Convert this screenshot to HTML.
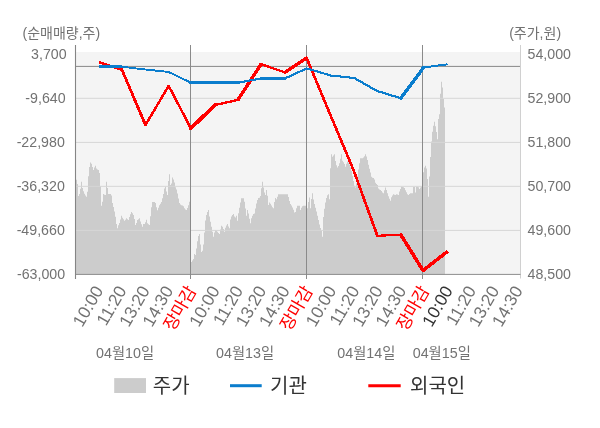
<!DOCTYPE html>
<html lang="ko"><head><meta charset="utf-8"><title>chart</title>
<style>
html,body{margin:0;padding:0;background:#fff;}
body{width:600px;height:428px;overflow:hidden;}
svg{display:block;font-family:'Liberation Sans', 'Noto Sans CJK KR', sans-serif;}
.ax{font-size:14px;fill:#727272;}
.axn{font-size:14.8px;fill:#727272;}
.xt{font-size:17.3px;}
.dt{font-size:14.3px;fill:#727272;}
.lg{font-size:20px;fill:#333;}
</style></head><body>
<svg width="600" height="428" viewBox="0 0 600 428">
<rect x="0" y="0" width="600" height="428" fill="#fff"/>
<rect x="75.5" y="52.0" width="445.0" height="222.39999999999998" fill="#f4f4f4"/>
<path d="M76,274.4V179.7H77V184.0H78V196.0H79V193.9H80V188.7H81V181.7H82V188.0H83V191.3H84V193.8H85V195.5H86V196.7H87V191.7H88V176.2H89V167.1H90V162.5H91V163.8H92V167.0H93V170.0H94V167.5H95V165.8H96V168.5H97V169.4H98V169.9H99V173.1H100V186.3H101V205.8H102V201.7H103V194.0H104V194.7H105V195.0H106V181.7H107V188.0H108V194.0H109V194.0H110V194.0H111V195.5H112V203.0H113V207.1H114V211.6H115V216.7H116V224.1H117V228.3H118V225.3H119V222.9H120V219.4H121V215.8H122V217.7H123V219.3H124V220.8H125V219.8H126V218.3H127V219.2H128V220.0H129V217.0H130V214.3H131V212.0H132V213.2H133V214.9H134V219.1H135V225.0H136V222.9H137V220.0H138V219.2H139V218.3H140V221.4H141V224.2H142V226.7H143V224.0H144V224.0H145V222.3H146V219.7H147V223.3H148V224.3H149V225.0H150V216.3H151V207.3H152V202.0H153V202.0H154V202.0H155V202.9H156V207.3H157V210.3H158V207.7H159V205.3H160V203.7H161V202.0H162V198.3H163V193.9H164V188.6H165V186.7H166V191.5H167V195.0H168V181.0H169V174.2H170V185.0H171V183.5H172V177.5H173V179.6H174V182.4H175V187.2H176V189.5H177V193.6H178V198.6H179V203.0H180V204.5H181V205.2H182V205.5H183V206.2H184V208.2H185V209.4H186V210.0H187V207.9H188V205.2H189V201.7H190V201.7H191V262.0H192V260.5H193V259.1H194V254.0H195V255.0H196V248.6H197V241.2H198V236.1H199V234.0H200V244.5H201V252.0H202V250.8H203V244.5H204V232.6H205V220.6H206V215.1H207V212.0H208V210.0H209V216.4H210V221.7H211V226.8H212V231.7H213V236.7H214V232.4H215V230.0H216V230.7H217V231.7H218V233.1H219V234.0H220V229.4H221V225.8H222V226.8H223V229.1H224V231.7H225V227.7H226V225.6H227V224.0H228V226.5H229V228.3H230V219.4H231V216.4H232V214.9H233V214.0H234V216.5H235V217.5H236V215.8H237V220.8H238V213.3H239V207.8H240V202.4H241V198.3H242V198.3H243V198.3H244V201.8H245V208.5H246V215.8H247V210.0H248V213.5H249V218.7H250V223.3H251V218.3H252V215.8H253V213.9H254V213.5H255V208.6H256V203.4H257V200.0H258V198.1H259V197.8H260V196.0H261V188.3H262V181.7H263V187.4H264V192.4H265V195.0H266V190.0H267V195.8H268V205.0H269V202.5H270V203.8H271V205.4H272V207.3H273V208.3H274V201.9H275V198.0H276V199.2H277V196.7H278V194.2H279V194.2H280V194.2H281V194.2H282V194.2H283V194.2H284V194.2H285V194.2H286V194.2H287V194.2H288V197.0H289V201.1H290V204.0H291V205.5H292V207.5H293V209.7H294V212.5H295V211.9H296V208.3H297V205.8H298V205.8H299V205.8H300V210.0H301V207.7H302V206.2H303V205.8H304V205.8H305V205.8H306V206.8H307V208.3H308V202.1H309V197.5H310V208.3H311V198.9H312V193.3H313V199.6H314V203.9H315V207.7H316V211.6H317V215.8H318V220.1H319V224.5H320V228.0H321V231.1H322V236.7H323V217.0H324V208.8H325V202.4H326V198.0H327V195.2H328V194.2H329V199.2H330V168.3H331V154.2H332V156.7H333V155.4H334V154.2H335V160.9H336V165.3H337V167.5H338V166.0H339V163.3H340V158.8H341V154.2H342V160.8H343V162.3H344V163.9H345V166.7H346V163.8H347V161.7H348V162.4H349V164.5H350V167.5H351V171.0H352V175.8H353V181.1H354V185.7H355V187.5H356V183.2H357V176.3H358V169.4H359V163.2H360V158.3H361V158.3H362V158.3H363V157.4H364V156.2H365V154.2H366V156.6H367V160.0H368V164.8H369V168.8H370V172.5H371V176.7H372V177.8H373V178.1H374V179.4H375V182.7H376V183.9H377V185.0H378V188.5H379V189.5H380V189.9H381V191.0H382V192.6H383V193.3H384V190.2H385V187.5H386V189.9H387V193.3H388V196.3H389V198.8H390V200.8H391V197.3H392V195.4H393V194.2H394V194.8H395V195.0H396V194.2H397V194.6H398V195.0H399V191.5H400V189.0H401V186.7H402V187.0H403V187.3H404V188.1H405V190.2H406V192.2H407V194.2H408V195.0H409V194.0H410V193.3H411V193.3H412V193.3H413V187.0H414V187.0H415V192.5H416V186.7H417V186.8H418V187.3H419V189.0H420V187.5H421V186.6H422V181.3H423V172.2H424V167.6H425V165.8H426V168.5H427V179.0H428V196.7H429V176.4H430V157.1H431V141.4H432V131.7H433V125.8H434V121.7H435V126.2H436V132.1H437V139.2H438V119.0H439V114.3H440V93.7H441V81.7H442V87.5H443V98.9H444V107.5H445V274.4Z" fill="#cccccc"/>
<line x1="75.5" x2="520.5" y1="98.3" y2="98.3" stroke="#d6d6d6" stroke-width="1"/>
<line x1="75.5" x2="520.5" y1="142.4" y2="142.4" stroke="#d6d6d6" stroke-width="1"/>
<line x1="75.5" x2="520.5" y1="186.35" y2="186.35" stroke="#d6d6d6" stroke-width="1"/>
<line x1="75.5" x2="520.5" y1="230.4" y2="230.4" stroke="#d6d6d6" stroke-width="1"/>
<line x1="75.5" x2="520.5" y1="66.4" y2="66.4" stroke="#888" stroke-width="1"/>
<line x1="520.5" x2="520.5" y1="45" y2="278.5" stroke="#d0d0d0" stroke-width="1"/>
<line x1="75.5" x2="520.5" y1="274.4" y2="274.4" stroke="#8c8c8c" stroke-width="1"/>
<line x1="75.5" x2="75.5" y1="45" y2="279" stroke="#858585" stroke-width="1.1"/>
<line x1="190.5" x2="190.5" y1="45" y2="279" stroke="#8a8a8a" stroke-width="1.05"/>
<line x1="306.5" x2="306.5" y1="45" y2="279" stroke="#8a8a8a" stroke-width="1.05"/>
<line x1="422.5" x2="422.5" y1="45" y2="279" stroke="#8a8a8a" stroke-width="1.05"/>
<g fill="none" stroke="#ff0000" stroke-linecap="round" shape-rendering="crispEdges">
<path d="M99.00,62.20 L121.90,69.80" stroke-width="2.3" stroke-linecap="butt"/>
<path d="M121.90,69.80 L145.50,125.00" stroke-width="2.8"/>
<path d="M145.50,125.00 L168.70,85.80" stroke-width="2.5"/>
<path d="M168.70,85.80 L190.80,128.25" stroke-width="2.5"/>
<path d="M190.80,128.25 L215.30,105.00" stroke-width="3.8"/>
<path d="M215.30,105.00 L238.00,99.80" stroke-width="2.4"/>
<path d="M238.00,99.80 L261.00,64.20" stroke-width="3.4"/>
<path d="M261.00,64.20 L285.00,72.40" stroke-width="2.4"/>
<path d="M285.00,72.40 L306.60,58.00" stroke-width="3.3"/>
<path d="M306.60,58.00 L330.00,114.00" stroke-width="2.7"/>
<path d="M330.00,114.00 L353.50,170.00" stroke-width="2.7"/>
<path d="M353.50,170.00 L377.40,235.80" stroke-width="2.7"/>
<path d="M377.40,235.80 L400.80,234.70" stroke-width="2.2"/>
<path d="M400.80,234.70 L423.00,270.50" stroke-width="3.5"/>
<path d="M423.00,270.50 L447.90,251.10" stroke-width="3.5" stroke-linecap="butt"/>
</g>
<g fill="none" stroke="#0a7dcd" stroke-linecap="round" shape-rendering="crispEdges">
<path d="M99.00,66.50 L122.00,66.80" stroke-width="3.0" stroke-linecap="butt"/>
<path d="M122.00,66.80 L145.50,69.50" stroke-width="1.9"/>
<path d="M145.50,69.50 L168.30,71.90" stroke-width="1.9"/>
<path d="M168.30,71.90 L190.60,82.50" stroke-width="1.9"/>
<path d="M190.60,82.50 L215.00,82.50" stroke-width="3.0"/>
<path d="M215.00,82.50 L238.75,82.50" stroke-width="3.0"/>
<path d="M238.75,82.50 L261.50,78.40" stroke-width="2.1"/>
<path d="M261.50,78.40 L285.00,78.40" stroke-width="3.0"/>
<path d="M285.00,78.40 L306.80,68.40" stroke-width="2.2"/>
<path d="M306.80,68.40 L330.80,75.50" stroke-width="2.1"/>
<path d="M330.80,75.50 L354.20,78.00" stroke-width="2.1"/>
<path d="M354.20,78.00 L376.70,90.80" stroke-width="2.2"/>
<path d="M376.70,90.80 L400.80,98.30" stroke-width="2.2"/>
<path d="M400.80,98.30 L423.60,67.50" stroke-width="3.4"/>
<path d="M423.60,67.50 L447.50,64.25" stroke-width="2.0" stroke-linecap="butt"/>
</g>
<text transform="translate(66.6,59.1) scale(0.96,1)" text-anchor="end" class="axn">3,700</text>
<text transform="translate(65.6,103.1) scale(0.96,1)" text-anchor="end" class="axn">-9,640</text>
<text transform="translate(64.8,147.2) scale(0.96,1)" text-anchor="end" class="axn">-22,980</text>
<text transform="translate(64.8,191.2) scale(0.96,1)" text-anchor="end" class="axn">-36,320</text>
<text transform="translate(64.8,235.2) scale(0.96,1)" text-anchor="end" class="axn">-49,660</text>
<text transform="translate(65.1,279.2) scale(0.96,1)" text-anchor="end" class="axn">-63,000</text>
<text transform="translate(527.5,59.1) scale(0.96,1)" text-anchor="start" class="axn">54,000</text>
<text transform="translate(527.5,103.1) scale(0.96,1)" text-anchor="start" class="axn">52,900</text>
<text transform="translate(527.5,147.2) scale(0.96,1)" text-anchor="start" class="axn">51,800</text>
<text transform="translate(527.5,191.2) scale(0.96,1)" text-anchor="start" class="axn">50,700</text>
<text transform="translate(527.5,235.2) scale(0.96,1)" text-anchor="start" class="axn">49,600</text>
<text transform="translate(527.5,279.2) scale(0.96,1)" text-anchor="start" class="axn">48,500</text>
<text x="22.5" y="38.1" class="ax">(순매매량,주)</text>
<text x="509.2" y="38.1" class="ax">(주가,원)</text>
<text transform="translate(93.3,284.4) rotate(-60)" text-anchor="end" class="xt" fill="#727272" dy="0.7em">10:00</text>
<text transform="translate(116.6,284.4) rotate(-60)" text-anchor="end" class="xt" fill="#727272" dy="0.7em">11:20</text>
<text transform="translate(139.9,284.4) rotate(-60)" text-anchor="end" class="xt" fill="#727272" dy="0.7em">13:20</text>
<text transform="translate(163.2,284.4) rotate(-60)" text-anchor="end" class="xt" fill="#727272" dy="0.7em">14:30</text>
<text transform="translate(186.5,284.4) rotate(-60)" text-anchor="end" class="xt" fill="#ff0000" dy="0.7em">장마감</text>
<text transform="translate(209.8,284.4) rotate(-60)" text-anchor="end" class="xt" fill="#727272" dy="0.7em">10:00</text>
<text transform="translate(233.1,284.4) rotate(-60)" text-anchor="end" class="xt" fill="#727272" dy="0.7em">11:20</text>
<text transform="translate(256.4,284.4) rotate(-60)" text-anchor="end" class="xt" fill="#727272" dy="0.7em">13:20</text>
<text transform="translate(279.7,284.4) rotate(-60)" text-anchor="end" class="xt" fill="#727272" dy="0.7em">14:30</text>
<text transform="translate(303.0,284.4) rotate(-60)" text-anchor="end" class="xt" fill="#ff0000" dy="0.7em">장마감</text>
<text transform="translate(326.3,284.4) rotate(-60)" text-anchor="end" class="xt" fill="#727272" dy="0.7em">10:00</text>
<text transform="translate(349.6,284.4) rotate(-60)" text-anchor="end" class="xt" fill="#727272" dy="0.7em">11:20</text>
<text transform="translate(372.9,284.4) rotate(-60)" text-anchor="end" class="xt" fill="#727272" dy="0.7em">13:20</text>
<text transform="translate(396.2,284.4) rotate(-60)" text-anchor="end" class="xt" fill="#727272" dy="0.7em">14:30</text>
<text transform="translate(419.5,284.4) rotate(-60)" text-anchor="end" class="xt" fill="#ff0000" dy="0.7em">장마감</text>
<text transform="translate(442.8,284.4) rotate(-60)" text-anchor="end" class="xt" fill="#333" dy="0.7em">10:00</text>
<text transform="translate(466.1,284.4) rotate(-60)" text-anchor="end" class="xt" fill="#727272" dy="0.7em">11:20</text>
<text transform="translate(489.4,284.4) rotate(-60)" text-anchor="end" class="xt" fill="#727272" dy="0.7em">13:20</text>
<text transform="translate(512.7,284.4) rotate(-60)" text-anchor="end" class="xt" fill="#727272" dy="0.7em">14:30</text>
<text x="96" y="358" class="dt">04월10일</text>
<text x="216" y="358" class="dt">04월13일</text>
<text x="337.3" y="358" class="dt">04월14일</text>
<text x="412.7" y="358" class="dt">04월15일</text>
<rect x="114.2" y="378.1" width="31.8" height="14.9" fill="#cccccc"/>
<text x="152.8" y="393.2" class="lg">주가</text>
<line x1="230" x2="261.7" y1="385.7" y2="385.7" stroke="#0a7dcd" stroke-width="3"/>
<text x="270" y="393.2" class="lg">기관</text>
<line x1="368.3" x2="400.7" y1="385.7" y2="385.7" stroke="#ff0000" stroke-width="3"/>
<text x="410" y="393.2" class="lg">외국인</text>
</svg>
</body></html>
